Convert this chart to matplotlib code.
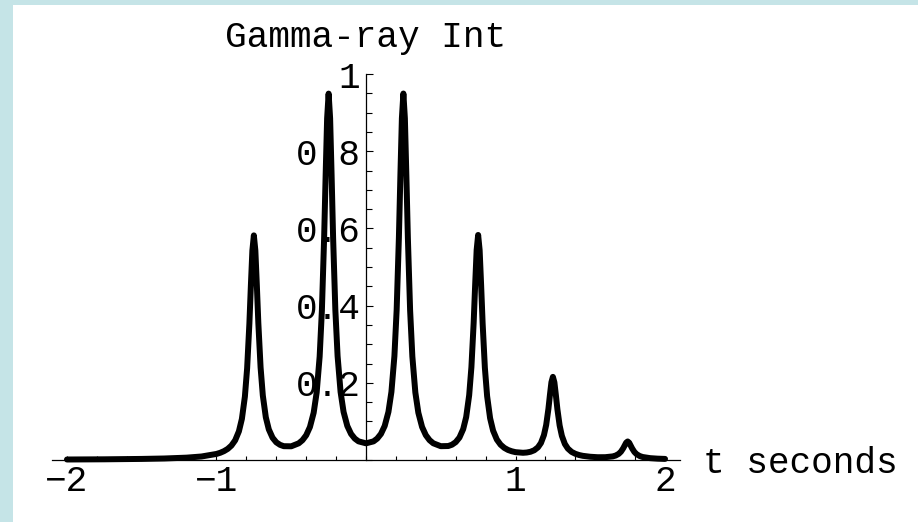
import matplotlib
matplotlib.use('Agg')
import matplotlib.pyplot as plt
from matplotlib.patches import Rectangle
from matplotlib.ticker import FixedLocator, MultipleLocator

# gamma-ray intensity (t in seconds)
t_sec = [
    -2.0, -1.75, -1.5, -1.35, -1.2, -1.1, -1.0, -0.975,
    -0.95, -0.925, -0.90, -0.875, -0.85, -0.83, -0.81, -0.795, -0.78, -0.77, -0.76, -0.75,
    -0.74, -0.73, -0.72, -0.705, -0.69, -0.67, -0.65, -0.625, -0.60, -0.575, -0.55, -0.50,
    -0.45, -0.425, -0.40, -0.375, -0.35, -0.33, -0.31, -0.295, -0.28, -0.27, -0.26, -0.25,
    -0.24, -0.23, -0.22, -0.205, -0.19, -0.17, -0.15, -0.125, -0.10, -0.075, -0.05, 0.0,
    0.05, 0.075, 0.10, 0.125, 0.15, 0.17, 0.19, 0.205, 0.22, 0.23, 0.24, 0.25,
    0.26, 0.27, 0.28, 0.295, 0.31, 0.33, 0.35, 0.375, 0.40, 0.425, 0.45, 0.50,
    0.55, 0.575, 0.60, 0.625, 0.65, 0.67, 0.69, 0.705, 0.72, 0.73, 0.74, 0.75,
    0.76, 0.77, 0.78, 0.795, 0.81, 0.83, 0.85, 0.875, 0.90, 0.925, 0.95, 0.975, 1.00,
    1.05, 1.075, 1.10, 1.125, 1.15, 1.17, 1.19, 1.205, 1.22, 1.23, 1.24, 1.25,
    1.26, 1.27, 1.28, 1.295, 1.31, 1.33, 1.35, 1.375, 1.40, 1.425, 1.45, 1.50,
    1.55, 1.60, 1.65, 1.67, 1.69, 1.705, 1.72, 1.73, 1.74, 1.75,
    1.76, 1.77, 1.78, 1.795, 1.81, 1.83, 1.85, 1.90, 1.95, 2.00,
]
intensity = [
    0.0013, 0.0018, 0.0028, 0.0039, 0.0061, 0.0091, 0.0157, 0.0187,
    0.0229, 0.0287, 0.0374, 0.0510, 0.0743, 0.1066, 0.1641, 0.2376, 0.3529, 0.4515, 0.5425, 0.5819,
    0.5430, 0.4525, 0.3544, 0.2398, 0.1670, 0.1106, 0.0793, 0.0577, 0.0458, 0.0393, 0.0358, 0.0355,
    0.0432, 0.0513, 0.0641, 0.0854, 0.1224, 0.1747, 0.2680, 0.3878, 0.5758, 0.7366, 0.8852, 0.9492,
    0.8854, 0.7371, 0.5764, 0.3887, 0.2692, 0.1763, 0.1246, 0.0882, 0.0676, 0.0555, 0.0483, 0.0432,
    0.0482, 0.0555, 0.0676, 0.0882, 0.1246, 0.1764, 0.2692, 0.3888, 0.5765, 0.7372, 0.8855, 0.9494,
    0.8854, 0.7368, 0.5760, 0.3879, 0.2682, 0.1749, 0.1226, 0.0856, 0.0644, 0.0514, 0.0433, 0.0358,
    0.0362, 0.0396, 0.0463, 0.0582, 0.0800, 0.1113, 0.1678, 0.2407, 0.3553, 0.4535, 0.5441, 0.5830,
    0.5437, 0.4527, 0.3542, 0.2390, 0.1655, 0.1082, 0.0760, 0.0530, 0.0397, 0.0314, 0.0260, 0.0226, 0.0203,
    0.0187, 0.0194, 0.0213, 0.0252, 0.0328, 0.0440, 0.0645, 0.0908, 0.1326, 0.1683, 0.2013, 0.2154,
    0.2010, 0.1677, 0.1316, 0.0895, 0.0626, 0.0415, 0.0296, 0.0210, 0.0161, 0.0129, 0.0108, 0.0084,
    0.0072, 0.0073, 0.0093, 0.0116, 0.0159, 0.0215, 0.0303, 0.0379, 0.0449, 0.0480,
    0.0448, 0.0376, 0.0299, 0.0208, 0.0150, 0.0104, 0.0078, 0.0048, 0.0035, 0.0028,
]

x_ticks = [-2, -1, 1, 2]
x_tick_labels = ['\u22122', '\u22121', '1', '2']
y_ticks = [0.2, 0.4, 0.6, 0.8, 1.0]
y_tick_labels = ['0.2', '0.4', '0.6', '0.8', '1']

plt.rcParams['font.family'] = ['Liberation Mono', 'DejaVu Sans Mono']
FS = 26

fig = plt.figure(figsize=(9.18, 5.22), dpi=100, facecolor='#c5e4e7')
# white page inside the light blue frame
fig.add_artist(Rectangle((13 / 918, 0), 1, 517 / 522, transform=fig.transFigure,
                         facecolor='white', edgecolor='none', zorder=-10))

ax = fig.add_axes([52 / 918, 62 / 522, 628 / 918, 386 / 522])
ax.set_facecolor('none')
ax.set_xlim(-2.1, 2.1)
ax.set_ylim(0, 1)

ax.plot(t_sec, intensity, color='black', lw=4.3, solid_joinstyle='round',
        solid_capstyle='round', zorder=3, clip_on=False)

for s in ['top', 'right']:
    ax.spines[s].set_visible(False)
ax.spines['left'].set_position(('data', 0))
ax.spines['bottom'].set_position(('data', 0))
for s in ['left', 'bottom']:
    ax.spines[s].set_linewidth(0.9)

ax.xaxis.set_major_locator(FixedLocator(x_ticks))
ax.set_xticklabels(x_tick_labels)
ax.xaxis.set_minor_locator(MultipleLocator(0.2))
ax.yaxis.set_major_locator(FixedLocator(y_ticks))
ax.set_yticklabels(y_tick_labels)
ax.yaxis.set_minor_locator(MultipleLocator(0.05))

ax.tick_params(axis='x', which='both', direction='in', length=3, width=0.8,
               labelsize=FS, pad=3)
ax.tick_params(axis='y', which='major', direction='in', length=5, width=0.8,
               labelsize=FS, pad=4)
ax.tick_params(axis='y', which='minor', direction='in', length=4, width=0.8)

ax.annotate('Gamma-ray Int', xy=(0, 1), xytext=(0, 19.5), textcoords='offset points',
            ha='center', va='baseline', fontsize=FS, annotation_clip=False)
ax.annotate('t seconds', xy=(2.1, 0), xytext=(16.5, -9.4), textcoords='offset points',
            ha='left', va='baseline', fontsize=FS, annotation_clip=False)

fig.savefig('out.png', dpi=100)
